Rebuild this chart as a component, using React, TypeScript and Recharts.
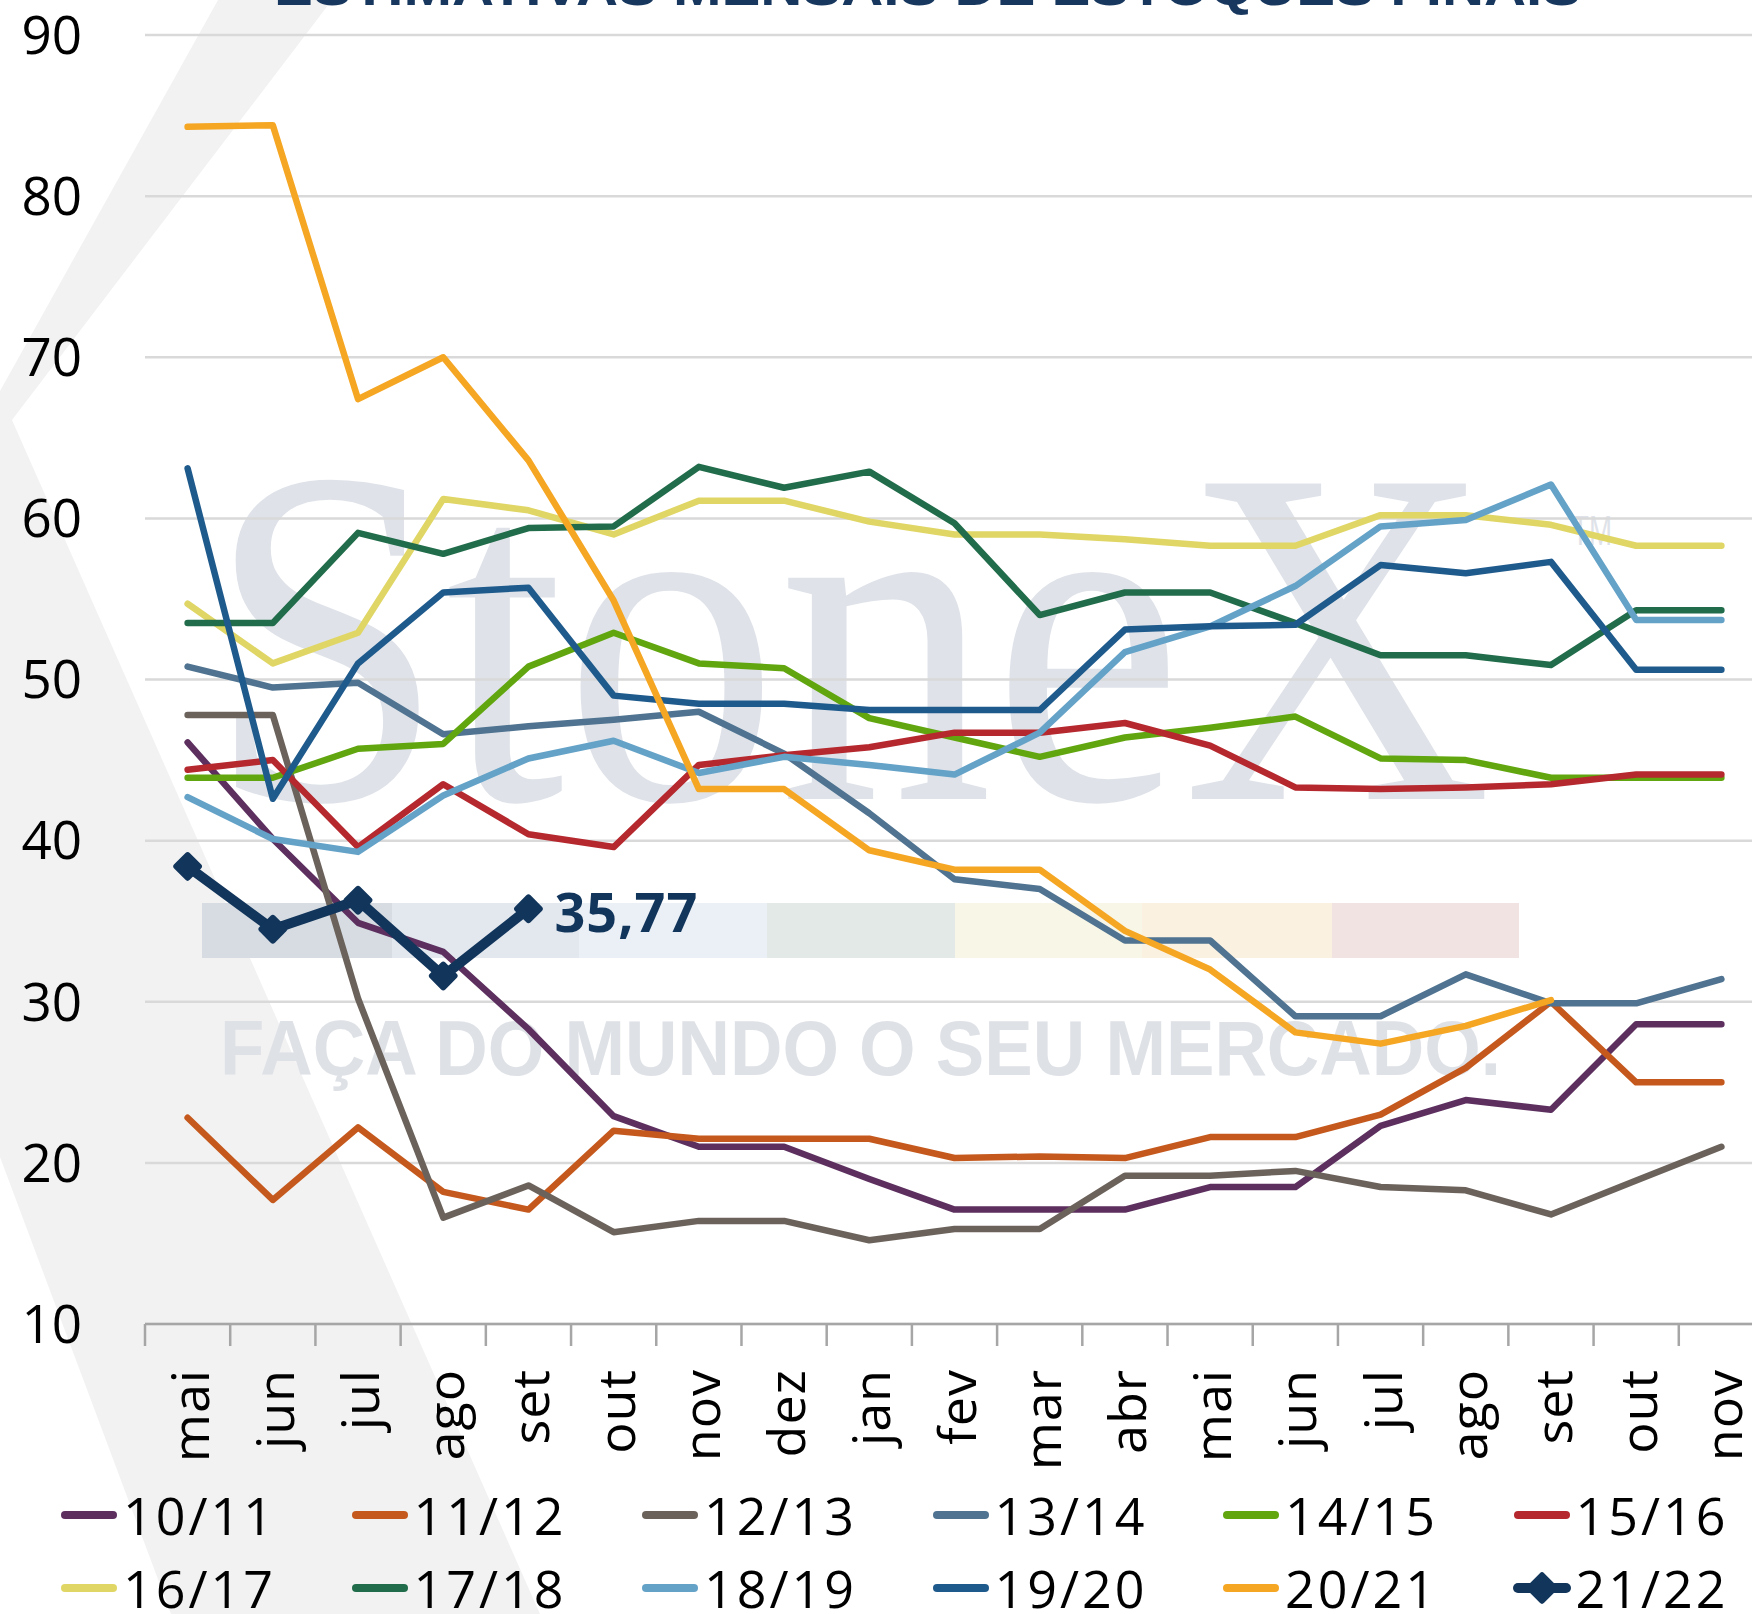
import React from 'react'
import { LineChart, Line, XAxis, YAxis, CartesianGrid, LabelList } from 'recharts'

// month categories (May -> next Nov)
const months = ['mai', 'jun', 'jul', 'ago', 'set', 'out', 'nov', 'dez', 'jan', 'fev', 'mar', 'abr', 'mai', 'jun', 'jul', 'ago', 'set', 'out', 'nov']
const yTicks = [10, 20, 30, 40, 50, 60, 70, 80, 90]

const seasons = ['10/11', '11/12', '12/13', '13/14', '14/15', '15/16', '16/17', '17/18', '18/19', '19/20', '20/21', '21/22']
const colors = ['#5c2f5f', '#c5591d', '#6b625b', '#4f7390', '#61a60f', '#b5282e', '#e0d665', '#216c4a', '#64a2c8', '#1f5a8c', '#f5a623', '#12355b']

const s1011 = [46.1, 40.1, 34.9, 33.1, 28.3, 22.9, 21.0, 21.0, 19.0, 17.1, 17.1, 17.1, 18.5, 18.5, 22.3, 23.9, 23.3, 28.6, 28.6]
const s1112 = [22.8, 17.7, 22.2, 18.2, 17.1, 22.0, 21.5, 21.5, 21.5, 20.3, 20.4, 20.3, 21.6, 21.6, 23.0, 25.9, 30.0, 25.0, 25.0]
const s1213 = [47.8, 47.8, 30.2, 16.6, 18.6, 15.7, 16.4, 16.4, 15.2, 15.9, 15.9, 19.2, 19.2, 19.5, 18.5, 18.3, 16.8, 18.9, 21.0]
const s1314 = [50.8, 49.5, 49.8, 46.6, 47.1, 47.5, 48.0, 45.4, 41.7, 37.6, 37.0, 33.8, 33.8, 29.1, 29.1, 31.7, 29.9, 29.9, 31.4]
const s1415 = [43.9, 43.9, 45.7, 46.0, 50.8, 52.9, 51.0, 50.7, 47.6, 46.4, 45.2, 46.4, 47.0, 47.7, 45.1, 45.0, 43.9, 43.9, 43.9]
const s1516 = [44.4, 45.0, 39.6, 43.5, 40.4, 39.6, 44.7, 45.3, 45.8, 46.7, 46.7, 47.3, 45.9, 43.3, 43.2, 43.3, 43.5, 44.1, 44.1]
const s1617 = [54.7, 51.0, 52.9, 61.2, 60.5, 59.0, 61.1, 61.1, 59.8, 59.0, 59.0, 58.7, 58.3, 58.3, 60.2, 60.2, 59.6, 58.3, 58.3]
const s1718 = [53.5, 53.5, 59.1, 57.8, 59.4, 59.5, 63.2, 61.9, 62.9, 59.7, 54.0, 55.4, 55.4, 53.5, 51.5, 51.5, 50.9, 54.3, 54.3]
const s1819 = [42.7, 40.1, 39.3, 42.8, 45.1, 46.2, 44.2, 45.2, 44.7, 44.1, 46.7, 51.7, 53.3, 55.8, 59.5, 59.9, 62.1, 53.7, 53.7]
const s1920 = [63.1, 42.6, 51.0, 55.4, 55.7, 49.0, 48.5, 48.5, 48.1, 48.1, 48.1, 53.1, 53.3, 53.4, 57.1, 56.6, 57.3, 50.6, 50.6]
const s2021 = [84.3, 84.4, 67.4, 70.0, 63.6, 54.9, 43.2, 43.2, 39.4, 38.2, 38.2, 34.4, 32.0, 28.1, 27.4, 28.5, 30.1, null, null]
const s2122 = [38.4, 34.5, 36.3, 31.6, 35.77, null, null, null, null, null, null, null, null, null, null, null, null, null, null]

const values = [s1011, s1112, s1213, s1314, s1415, s1516, s1617, s1718, s1819, s1920, s2021, s2122]

const series = seasons.map((name, k) => ({ key: 's' + k, name, color: colors[k], vals: values[k] }))
const rows = months.map((m, i) => {
  const row: Record<string, number | string | null> = { i, m }
  series.forEach(s => { row[s.key] = s.vals[i] })
  return row
})
// labels at category centers, tick marks at boundaries
const xTicks = months.flatMap((_, i) => [i - 0.5, i])
const lastIdx = s2122.reduce((acc, v, i) => (v != null ? i : acc), 0)

const FONT = '"Open Sans", "DejaVu Sans", sans-serif'
const NAVY = '#12355b'

function XTick(props: any) {
  const { x, y, payload } = props
  const v = payload.value
  if (Number.isInteger(v)) {
    return (
      <text transform={`translate(${x},${y + 45}) rotate(-90)`} x={0} y={21} textAnchor="end"
        fontSize={52} fontFamily={FONT} fill="#000" letterSpacing={1}>
        {months[v]}
      </text>
    )
  }
  return <line x1={x} y1={y} x2={x} y2={y + 22} stroke="#a6a6a6" strokeWidth={2.5} />
}

function Diamond({ cx, cy, size = 22 }: { cx: number; cy: number; size?: number }) {
  return (
    <rect x={cx - size / 2} y={cy - size / 2} width={size} height={size} rx={3}
      transform={`rotate(45 ${cx} ${cy})`} fill={NAVY} />
  )
}

function Background() {
  const bar = ['#d6dce2', '#e3e8ef', '#ebf0f7', '#e2e9e6', '#f8f6e7', '#faf1e1', '#f2e3e3']
  const edges = [202, 392, 579, 767, 955, 1142, 1332, 1519]
  return (
    <svg width={1752} height={1614} style={{ position: 'absolute', left: 0, top: 0 }}>
      <polygon points="218,0 332,0 12,420 540,1614 171,1614 0,1157 0,391" fill="#f2f2f2" />
      <text x={207} y={799} fontFamily="Liberation Serif" fontSize={482} fill="#dfe3e9"
        textLength={1285} lengthAdjust="spacingAndGlyphs">StoneX</text>
      <text x={1572} y={545} fontFamily="Liberation Sans" fontSize={42} fill="#dfe3e9"
        textLength={40} lengthAdjust="spacingAndGlyphs">TM</text>
      {bar.map((c, k) => (
        <rect key={k} x={edges[k]} y={903} width={edges[k + 1] - edges[k]} height={55} fill={c} />
      ))}
      <text x={220} y={1075} fontFamily="Liberation Sans" fontWeight="bold" fontSize={77} fill="#dee1e6"
        textLength={1281} lengthAdjust="spacingAndGlyphs">FAÇA DO MUNDO O SEU MERCADO.</text>
      <text x={274} y={5} fontFamily="Liberation Sans" fontWeight="bold" fontSize={52} fill="#17375e"
        textLength={1307} lengthAdjust="spacingAndGlyphs">ESTIMATIVAS MENSAIS DE ESTOQUES FINAIS</text>
    </svg>
  )
}

function ChartLegend() {
  const rowCenters = [1515, 1588]
  return (
    <div>
      {series.map((s, k) => {
        const col = k % 6
        const row = Math.floor(k / 6)
        const last = k === series.length - 1
        return (
          <div key={s.key} style={{
            position: 'absolute', left: 61 + col * 290.5, top: rowCenters[row] - 35, height: 70,
            display: 'flex', alignItems: 'center',
          }}>
            <svg width={56} height={32} style={{ overflow: 'visible' }}>
              <line x1={4} y1={16} x2={52} y2={16} stroke={s.color} strokeWidth={last ? 10 : 8} strokeLinecap="round" />
              {last && <Diamond cx={28} cy={16} size={24} />}
            </svg>
            <span style={{ marginLeft: 6, fontSize: 52, fontFamily: FONT, color: '#000', lineHeight: '70px', letterSpacing: 3 }}>
              {s.name}
            </span>
          </div>
        )
      })}
    </div>
  )
}

function NavyDot(p: any) {
  if (p.cx == null || p.cy == null || p.value == null) return <g key={`d${p.index}`} />
  return <Diamond key={`d${p.index}`} cx={p.cx} cy={p.cy} />
}

function LastLabel(p: any) {
  if (p.index !== lastIdx || p.value == null) return null
  const x = p.x ?? p.viewBox?.x
  const y = p.y ?? p.viewBox?.y
  return (
    <text x={x + 26} y={y + 23} fontSize={54} fontWeight={700} fontFamily={FONT} fill={NAVY} letterSpacing={1}>
      {Number(p.value).toFixed(2).replace('.', ',')}
    </text>
  )
}

export default function App() {
  return (
    <div style={{ position: 'absolute', left: 0, top: 0, width: 1752, height: 1614, overflow: 'hidden', background: '#fff' }}>
      <Background />
      <div style={{ position: 'absolute', left: 0, top: 0 }}>
        <LineChart width={1764} height={1614} data={rows} margin={{ top: 35, right: 0, bottom: 0, left: 0 }}>
          <CartesianGrid vertical={false} stroke="#d9d9d9" strokeWidth={2.5} />
          <XAxis dataKey="i" type="number" domain={[-0.5, months.length - 0.5]} ticks={xTicks} interval={0}
            allowDataOverflow tickLine={false} tickSize={0} tickMargin={0} height={290}
            axisLine={{ stroke: '#a6a6a6', strokeWidth: 2.5 }} tick={(p: any) => <XTick {...p} />} />
          <YAxis type="number" domain={[10, 90]} ticks={yTicks} interval={0} width={145}
            axisLine={false} tickLine={false} tickSize={0} tickMargin={63}
            tick={{ fontSize: 53, fill: '#000', fontFamily: FONT }} />
          {series.map((s, k) => {
            const last = k === series.length - 1
            return (
              <Line key={s.key} type="linear" dataKey={s.key} name={s.name} stroke={s.color}
                strokeWidth={last ? 10 : 6.5} strokeLinecap="round" strokeLinejoin="round"
                dot={last ? NavyDot : false} activeDot={false} isAnimationActive={false}>
                {last && <LabelList dataKey={s.key} content={LastLabel} />}
              </Line>
            )
          })}
        </LineChart>
      </div>
      <ChartLegend />
    </div>
  )
}
